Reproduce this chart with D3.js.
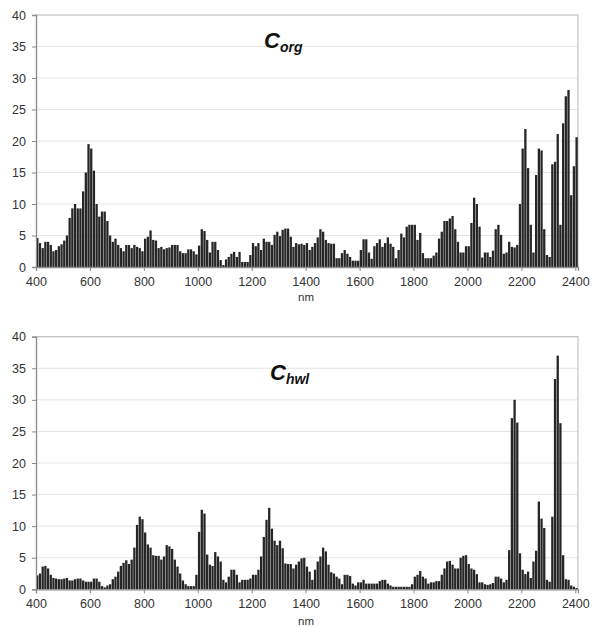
<!DOCTYPE html>
<html>
<head>
<meta charset="utf-8">
<script src="https://cdn.jsdelivr.net/npm/d3@7"></script>
<style>
  html, body { margin: 0; padding: 0; background: #fff; }
  svg { display: block; }
  text { font-family: Arial, "Liberation Sans", sans-serif; }
</style>
</head>
<body>
<svg id="chart" width="593" height="627"></svg>
<script>
// ---- data ----
const wavelengths = d3.range(400, 2410, 10); // 400..2400 nm, 10 nm bins
const xTicks = [400, 600, 800, 1000, 1200, 1400, 1600, 1800, 2000, 2200, 2400];
const yTicks = [0, 5, 10, 15, 20, 25, 30, 35, 40];

const corg = [
  4.6, 3.8, 3.0, 4.0, 4.0, 3.5, 2.5, 2.7, 3.3, 3.6,
  4.2, 5.0, 7.8, 9.3, 10.0, 9.3, 9.3, 12.0, 15.0, 19.5,
  18.8, 15.3, 10.0, 8.0, 8.8, 8.8, 7.3, 5.0, 4.0, 4.5,
  3.5, 3.0, 2.5, 3.5, 3.5, 3.0, 3.5, 3.2, 3.0, 2.5,
  4.5, 4.8, 5.8, 4.3, 4.2, 3.0, 3.2, 2.8, 3.0, 3.1,
  3.5, 3.5, 3.5, 2.5, 2.2, 2.2, 2.8, 2.8, 2.5, 2.0,
  3.4, 6.0, 5.7, 4.3, 2.3, 4.0, 4.0, 2.7, 1.1, 0.3,
  1.2, 1.6, 2.1, 2.4, 1.6, 2.4, 0.8, 0.8, 0.8, 1.9,
  3.8, 3.3, 3.8, 2.7, 4.5, 4.0, 4.0, 3.5, 5.1, 5.6,
  4.9, 5.9, 6.1, 6.1, 4.8, 3.2, 3.8, 3.6, 3.7, 3.5,
  3.8, 2.7, 3.2, 3.8, 4.7, 6.0, 5.6, 4.3, 3.8, 3.7,
  3.7, 1.4, 1.4, 2.2, 2.7, 2.1, 1.6, 1.0, 1.0, 1.0,
  2.7, 4.4, 4.4, 2.3, 1.3, 3.3, 3.8, 4.4, 3.2, 3.8,
  4.7, 3.7, 3.2, 1.4, 2.7, 5.3, 4.7, 6.4, 6.7, 6.7,
  6.7, 4.3, 5.4, 2.2, 1.4, 1.4, 1.4, 1.8, 2.3, 4.5,
  5.6, 7.3, 7.3, 7.7, 8.1, 6.0, 4.0, 2.3, 2.3, 3.3,
  3.3, 7.0, 11.0, 10.0, 6.4, 1.5, 2.3, 2.3, 1.6, 2.6,
  6.0, 6.7, 5.1, 2.1, 2.3, 4.0, 3.2, 3.1, 3.5, 10.0,
  18.8, 21.9, 15.7, 6.7, 2.3, 14.6, 18.8, 18.5, 6.0, 1.9,
  1.6, 16.3, 16.7, 21.1, 6.7, 22.8, 27.1, 28.1, 11.4, 16.0,
  20.6
];

const chwl = [
  2.2, 2.5, 3.6, 3.7, 3.3, 2.3, 1.8, 1.7, 1.6, 1.6,
  1.7, 1.8, 1.4, 1.4, 1.6, 1.7, 1.7, 1.4, 1.2, 1.2,
  1.2, 1.7, 1.7, 1.2, 0.5, 0.3, 0.6, 0.8, 1.6, 2.0,
  2.8, 3.7, 4.2, 4.6, 4.0, 4.7, 6.6, 10.2, 11.5, 11.1,
  9.0, 7.1, 6.6, 5.4, 5.3, 5.3, 4.7, 5.2, 7.0, 6.8,
  6.4, 4.7, 3.6, 2.5, 1.4, 0.8, 0.5, 0.5, 0.5, 2.3,
  9.1, 12.6, 12.0, 5.5, 3.9, 3.7, 5.9, 5.2, 4.4, 1.5,
  1.1, 2.0, 3.1, 3.1, 2.3, 1.1, 1.5, 1.5, 1.5, 1.7,
  2.3, 2.3, 3.1, 5.2, 8.3, 11.0, 12.9, 9.6, 7.7, 7.0,
  7.7, 6.5, 4.1, 4.0, 4.0, 3.3, 3.9, 4.4, 4.9, 5.0,
  3.6, 2.8, 1.5, 3.1, 4.4, 5.2, 6.6, 6.0, 3.9, 2.7,
  2.5, 2.0, 1.7, 0.8, 2.3, 2.3, 2.1, 0.9, 0.6, 1.1,
  1.1, 1.5, 0.9, 0.9, 0.9, 0.9, 0.9, 1.3, 1.5, 1.5,
  0.9, 0.6, 0.4, 0.4, 0.4, 0.4, 0.4, 0.4, 0.4, 0.8,
  2.0, 2.3, 2.9, 2.0, 1.7, 0.9, 1.1, 1.1, 1.3, 1.3,
  2.3, 3.3, 4.4, 4.5, 3.9, 3.3, 3.3, 5.0, 5.3, 5.4,
  4.0, 3.3, 3.1, 2.4, 1.1, 1.1, 0.8, 0.7, 0.8, 1.0,
  2.0, 2.0, 1.7, 1.1, 1.5, 6.2, 27.1, 30.0, 26.4, 5.7,
  3.1, 2.4, 2.8, 1.8, 4.4, 6.1, 13.9, 11.2, 9.7, 1.5,
  1.2, 11.5, 33.3, 37.0, 26.3, 5.4, 1.6, 1.5, 0.6, 0.4,
  0.2
];

const panels = [
  { values: corg, title: "C", sub: "org", top: 15, bottom: 267, titleX: 264, titleY: 48, nmY: 301 },
  { values: chwl, title: "C", sub: "hwl", top: 336.7, bottom: 589.3, titleX: 270, titleY: 380, nmY: 625 }
];

// ---- drawing ----
const svg = d3.select("#chart");
const left = 36, right = 578;
const x = d3.scaleLinear().domain([400, 2410]).range([left, right]);

panels.forEach(p => {
  const y = d3.scaleLinear().domain([0, 40]).range([p.bottom, p.top]);
  const g = svg.append("g");

  // gridlines
  g.append("g").selectAll("line").data(yTicks.filter(d => d > 0)).join("line")
    .attr("x1", left).attr("x2", right)
    .attr("y1", d => y(d)).attr("y2", d => y(d))
    .attr("stroke", "#e4e4e4").attr("stroke-width", 1);

  // frame (top & right)
  g.append("path")
    .attr("d", `M${left},${y(40)}H${right}V${y(0)}`)
    .attr("fill", "none").attr("stroke", "#c4c4c4").attr("stroke-width", 1.2);

  // bars
  const bw = x(410) - x(400);
  g.append("g").selectAll("rect").data(wavelengths.map((w, i) => ({ w, v: p.values[i] }))).join("rect")
    .attr("x", d => x(d.w) + 0.15)
    .attr("width", bw - 0.4)
    .attr("y", d => y(d.v))
    .attr("height", d => y(0) - y(d.v))
    .attr("fill", "#262626");

  // y axis
  const yAxis = d3.axisLeft(y).tickValues(yTicks).tickSize(4).tickPadding(6);
  const ya = g.append("g").attr("transform", `translate(${left},0)`).call(yAxis);
  ya.select(".domain").attr("stroke", "#8a8a8a").attr("stroke-width", 1.3);
  ya.selectAll(".tick line").attr("stroke", "#8a8a8a");
  ya.selectAll("text").attr("font-size", 12.5).attr("fill", "#333")
    .attr("font-family", "Arial, 'Liberation Sans', sans-serif");

  // x axis
  const xAxis = d3.axisBottom(x).tickValues(xTicks).tickSize(4).tickPadding(6).tickFormat(d3.format("d"));
  const xa = g.append("g").attr("transform", `translate(0,${y(0)})`).call(xAxis);
  xa.select(".domain").attr("stroke", "#8a8a8a").attr("stroke-width", 1.3);
  xa.selectAll(".tick line").attr("stroke", "#8a8a8a");
  xa.selectAll("text").attr("font-size", 12.5).attr("fill", "#333")
    .attr("font-family", "Arial, 'Liberation Sans', sans-serif");

  // x label
  g.append("text").attr("x", 306).attr("y", p.nmY).attr("text-anchor", "middle")
    .attr("font-size", 11.5).attr("fill", "#333").text("nm");

  // panel title C_sub
  const t = g.append("text").attr("x", p.titleX).attr("y", p.titleY)
    .attr("font-weight", "bold").attr("font-style", "italic").attr("fill", "#111");
  t.append("tspan").attr("font-size", 22).text(p.title);
  t.append("tspan").attr("font-size", 14).attr("dy", 4).text(p.sub);
});
</script>
</body>
</html>
